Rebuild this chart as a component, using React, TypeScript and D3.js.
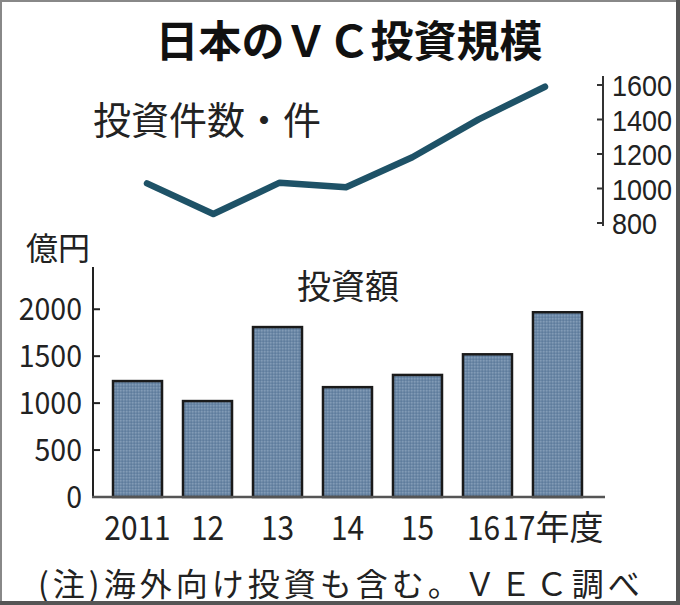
import React from "react";
import * as d3 from "d3";

const categories = ["2011", "12", "13", "14", "15", "16", "17"];
const lastSuffix = "年度";
const amounts = [1235, 1022, 1810, 1170, 1300, 1520, 1968];
const counts = [1030, 852, 1034, 1007, 1181, 1401, 1590];
const amountTicks = [0, 500, 1000, 1500, 2000];
const countTicks = [800, 1000, 1200, 1400, 1600];

const W = 680;
const H = 605;
const CJK = "'Noto Sans CJK JP', 'Noto Sans', sans-serif";
const NUM = "'Liberation Sans', Arial, sans-serif";

export default function App() {
  const x = d3
    .scaleBand<string>()
    .domain(categories)
    .range([93, 602])
    .paddingInner(0.3)
    .paddingOuter(0.286);
  const y = d3.scaleLinear().domain([0, 2450]).range([497, 267]);

  const xl = d3.scalePoint<string>().domain(categories).range([147, 545]);
  const yr = d3.scaleLinear().domain([800, 1600]).range([223, 85]);

  const line = d3
    .line<number>()
    .x((_, i) => xl(categories[i]) as number)
    .y((d) => yr(d));

  const last = categories[categories.length - 1];

  return (
    <svg
      width={W}
      height={H}
      viewBox={`0 0 ${W} ${H}`}
      style={{ position: "absolute", left: 0, top: 0, background: "#fff" }}
    >
      <defs>
        <pattern id="dots" width="3" height="3" patternUnits="userSpaceOnUse">
          <rect width="3" height="3" fill="#6b88a7" />
          <rect x="0" y="0" width="1.5" height="1.5" fill="#829bb5" />
          <rect x="1.5" y="1.5" width="1.5" height="1.5" fill="#5f7c9c" />
        </pattern>
      </defs>
      <rect x="0" y="0" width={W} height={H} fill="#fff" />

      {/* title */}
      <text
        x={349}
        y={57}
        textAnchor="middle"
        fontFamily={CJK}
        fontWeight={700}
        fontSize={43}
        fill="#111"
      >
        日本のＶＣ投資規模
      </text>

      {/* count line label */}
      <text x={93} y={134} fontFamily={CJK} fontSize={38} fill="#222">
        投資件数・件
      </text>

      {/* right axis */}
      <line x1={603} x2={603} y1={76} y2={226} stroke="#333" strokeWidth={2} />
      {countTicks.map((t) => (
        <g key={t}>
          <line x1={597} x2={603} y1={yr(t)} y2={yr(t)} stroke="#333" strokeWidth={2} />
          <text
            transform={`translate(612,${yr(t) + 11}) scale(0.9,1)`}
            fontFamily={NUM}
            fontSize={30}
            fill="#222"
          >
            {t}
          </text>
        </g>
      ))}

      {/* count line */}
      <path
        d={line(counts) || ""}
        fill="none"
        stroke="#1e5267"
        strokeWidth={6.5}
        strokeLinejoin="round"
        strokeLinecap="round"
      />

      {/* bar chart unit + label */}
      <text x={26} y={260} fontFamily={CJK} fontSize={32} fill="#222">
        億円
      </text>
      <text x={297} y={299} fontFamily={CJK} fontSize={34} fill="#222">
        投資額
      </text>

      {/* bars */}
      {amounts.map((v, i) => (
        <rect
          key={categories[i]}
          x={x(categories[i])}
          y={y(v)}
          width={x.bandwidth()}
          height={y(0) - y(v)}
          fill="url(#dots)"
          stroke="#1a1a1a"
          strokeWidth={2.5}
        />
      ))}

      {/* left axis */}
      <line x1={93} x2={93} y1={267} y2={497} stroke="#222" strokeWidth={2} />
      {amountTicks.map((t) => (
        <g key={t}>
          {t > 0 && (
            <line x1={93} x2={100} y1={y(t)} y2={y(t)} stroke="#222" strokeWidth={2} />
          )}
          <text
            transform={`translate(82,${y(t) + 11}) scale(0.92,1)`}
            textAnchor="end"
            fontFamily={CJK}
            fontSize={31}
            fill="#222"
          >
            {t}
          </text>
        </g>
      ))}
      <line x1={92} x2={605} y1={497} y2={497} stroke="#555" strokeWidth={2.5} />

      {/* x labels */}
      {categories.map((c) => {
        const cx = (x(c) as number) + x.bandwidth() / 2;
        if (c === last) {
          return (
            <g key={c} transform={`translate(${cx - 5},540)`}>
              <text
                transform="translate(-17,0) scale(0.88,1)"
                textAnchor="end"
                fontFamily={CJK}
                fontSize={34}
                fill="#222"
              >
                {c}
              </text>
              <text x={-17} textAnchor="start" fontFamily={CJK} fontSize={34} fill="#222">
                {lastSuffix}
              </text>
            </g>
          );
        }
        const shift = c === "16" ? -4 : 0;
        return (
          <text
            key={c}
            transform={`translate(${cx + shift},540) scale(0.88,1)`}
            textAnchor="middle"
            fontFamily={CJK}
            fontSize={34}
            fill="#222"
          >
            {c}
          </text>
        );
      })}

      {/* footnote */}
      <text x={38} y={596} fontFamily={CJK} fontSize={32} letterSpacing={4} fill="#222">
        (注)海外向け投資も含む。ＶＥＣ調べ
      </text>

      {/* frame */}
      <rect x={1} y={1} width={676} height={601} fill="none" stroke="#888" strokeWidth={2} />
      <rect x={676} y={0} width={4} height={H} fill="#555" />
      <rect x={0} y={601} width={W} height={4} fill="#555" />
    </svg>
  );
}
